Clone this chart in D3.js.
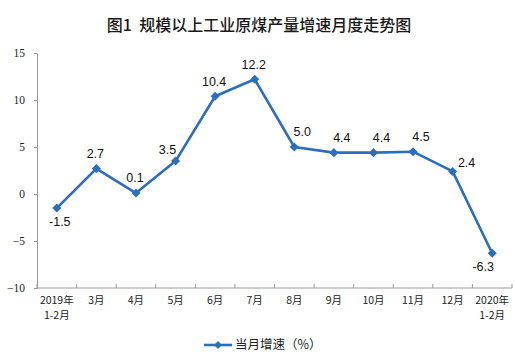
<!DOCTYPE html>
<html><head><meta charset="utf-8">
<script src="https://cdn.jsdelivr.net/npm/d3@7"></script>
<style>body{margin:0;background:#fff}svg{display:block}</style>
</head><body><svg id="c" width="515" height="362"></svg>
<script>
const categories = [["2019年","1-2月"],["3月"],["4月"],["5月"],["6月"],["7月"],["8月"],["9月"],["10月"],["11月"],["12月"],["2020年","1-2月"]];
const values = [-1.5, 2.7, 0.1, 3.5, 10.4, 12.2, 5.0, 4.4, 4.4, 4.5, 2.4, -6.3];
const yTicks = [-10, -5, 0, 5, 10, 15];
const labelPlacement = ["below","above","above","aboveLeft","above","above","aboveRight","aboveRight","aboveRight","aboveRight","right","belowLeft"];
const title = "图1  规模以上工业原煤产量增速月度走势图";
const seriesName = "当月增速（%）";

(function(){
const svg = d3.select("#c");
const color = "#2a6ebf";
const mL = 37, mR = 512, mT = 53, mB = 288;
const x = d3.scaleBand().domain(d3.range(categories.length)).range([mL, mR]);
const y = d3.scaleLinear().domain([-10, 15]).range([mB, mT]);

svg.append("text").attr("x", 259).attr("y", 31).attr("text-anchor", "middle").style("white-space", "pre")
  .attr("font-family", "Noto Sans CJK SC").attr("font-size", 16).attr("font-weight", 500).attr("fill", "#1a1a1a").text(title);

// y axis
const ya = svg.append("g").attr("transform", `translate(${mL},0)`)
  .call(d3.axisLeft(y).tickValues(yTicks).tickSize(3).tickPadding(9).tickFormat(d3.format("d")));
ya.select(".domain").attr("stroke", "#999");
ya.selectAll(".tick line").attr("stroke", "#999");
ya.selectAll(".tick text").attr("font-family", "Liberation Serif").attr("font-size", 11.5).attr("fill", "#222");

// x axis
const xa = svg.append("g").attr("transform", `translate(0,${mB})`);
xa.append("line").attr("x1", mL).attr("x2", mR).attr("stroke", "#999");
const bounds = d3.range(categories.length + 1).map(i => mL + i * x.step());
xa.selectAll(".xt").data(bounds).join("line").attr("class", "xt")
  .attr("x1", d => d).attr("x2", d => d).attr("y1", 0).attr("y2", -4).attr("stroke", "#999");
const xl = xa.selectAll(".xl").data(categories).join("text").attr("class", "xl")
  .attr("text-anchor", "middle").attr("font-family", "Noto Sans CJK SC").attr("font-size", 10.5).attr("fill", "#222");
xl.each(function(d, i) {
  const t = d3.select(this);
  d.forEach((s, j) => t.append("tspan").attr("x", x(i) + x.bandwidth() / 2).attr("y", 16 + j * 15).text(s));
});

// line
const cx = i => x(i) + x.bandwidth() / 2;
svg.append("path").datum(values).attr("fill", "none").attr("stroke", color).attr("stroke-width", 2.6)
  .attr("stroke-linejoin", "round")
  .attr("d", d3.line().x((d, i) => cx(i)).y(d => y(d)));
svg.selectAll(".m").data(values).join("path").attr("class", "m")
  .attr("transform", (d, i) => `translate(${cx(i)},${y(d)})`)
  .attr("d", d3.symbol(d3.symbolDiamond2, 52)).attr("fill", color);

const off = {above:[-1,-15], below:[3,14], aboveLeft:[-8,-11], aboveRight:[8,-15], right:[14,-9], belowLeft:[-9,13]};
svg.selectAll(".lb").data(values).join("text").attr("class", "lb")
  .attr("x", (d, i) => cx(i) + off[labelPlacement[i]][0])
  .attr("y", (d, i) => y(d) + off[labelPlacement[i]][1])
  .attr("dy", "0.35em").attr("text-anchor", "middle")
  .attr("font-family", "Liberation Sans").attr("font-size", 12.5).attr("fill", "#111")
  .text(d => d.toFixed(1));

// legend
const lg = svg.append("g").attr("transform", "translate(0,345)");
lg.append("line").attr("x1", 204).attr("x2", 232).attr("stroke", color).attr("stroke-width", 2.6);
lg.append("path").attr("transform", "translate(218,0)").attr("d", d3.symbol(d3.symbolDiamond2, 40)).attr("fill", color);
lg.append("text").attr("x", 235).attr("y", 0).attr("dy", "0.35em").attr("font-family", "Noto Sans CJK SC")
  .attr("font-size", 12.5).attr("fill", "#222").text(seriesName);
})();
</script></body></html>
